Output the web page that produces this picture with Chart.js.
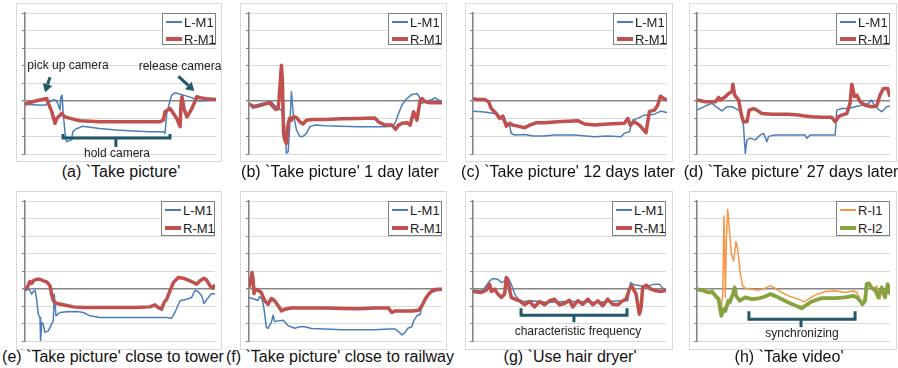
<!DOCTYPE html>
<html><head><meta charset="utf-8">
<script src="https://cdn.jsdelivr.net/npm/chart.js@4.4.1/dist/chart.umd.min.js"></script>
<style>
body{margin:0;width:898px;height:368px;background:#fff;position:relative;overflow:hidden;font-family:"Liberation Sans",Arial,sans-serif;}
.box{position:absolute;border:1px solid #d9d9d9;box-sizing:border-box;}
.leg{position:absolute;background:#fff;border:1px solid #808080;box-sizing:border-box;font-size:13px;color:#222;}
.row{position:absolute;left:3px;height:16px;display:flex;align-items:center;white-space:nowrap;}
.sw{display:inline-block;width:16px;margin-right:2px;}
.cap{position:absolute;font-size:16px;color:#111;white-space:nowrap;transform:translate(-50%,-50%);}
.ann{position:absolute;font-size:12px;color:#222;white-space:nowrap;transform:translate(-50%,-50%);}
</style></head><body>
<script>
// ---------- data (x = % of recording time, y = normalized signal) ----------
const a_L=[[0,-0.19],[10.5,-0.23],[13,-0.04],[15,0.09],[16.6,0],[17.5,-0.23],[18.3,-0.5],[18.8,0.25],[19.4,0.34],[20,-0.7],[21,-1.83],[21.8,-2.3],[24.4,-2.2],[25,-1.74],[27,-1.55],[28.8,-1.5],[30,-1.42],[39,-1.55],[48,-1.64],[56.7,-1.7],[65.4,-1.74],[72.4,-1.74],[73.3,-1.83],[74.2,-0.7],[76,0.06],[76.8,0.34],[78.5,0.47],[82.9,0.34],[87.3,0.2],[89.9,0.06],[91.6,0],[100,0.06]];
const a_R=[[0,-0.17],[2.6,-0.08],[6,0.02],[9.6,0.11],[11.4,0.15],[12.2,-0.13],[14,-0.6],[15.7,-1.26],[16.6,-0.98],[18.3,-0.8],[19.2,-0.7],[20,-0.8],[21,-0.89],[23.6,-0.98],[28.8,-1.11],[39,-1.17],[56.7,-1.17],[70.7,-1.17],[72.4,-1.08],[73.3,-0.6],[76,-0.42],[77.7,-0.7],[79.4,-0.98],[81.2,-1.45],[81.7,-0.13],[82.2,0.25],[83.4,-0.5],[84.8,-0.89],[87,-0.5],[89,0],[89.9,0.25],[91.6,0.19],[95,0.13],[100,0.09]];
const b_L=[[0,-0.13],[1.2,-0.28],[2,-0.42],[2.9,-0.23],[6.4,-0.13],[11.6,-0.04],[13.3,-0.23],[15,-0.42],[16.8,-0.5],[18.5,-1.45],[19.4,-2.96],[20.3,-2.87],[21.1,-1.45],[22,0.53],[22.9,-0.7],[24.6,-1.64],[26.3,-2.0],[28,-2.0],[29.8,-1.83],[31.5,-1.45],[34.1,-1.36],[39.3,-1.4],[56.7,-1.45],[70.5,-1.45],[74,-1.42],[75.7,-1.26],[77.5,-0.7],[79.2,-0.23],[81.8,0.15],[84.4,0.38],[87,0.43],[88.2,0.25],[89.6,-0.13],[91.3,-0.04],[94,0.06],[96.5,0.19],[99,0.02],[100,0]];
const b_R=[[0,-0.17],[2.9,-0.32],[4.7,-0.28],[8.1,-0.17],[10.7,-0.08],[12.5,-0.32],[13.9,-0.47],[15.1,-0.42],[15.6,0.15],[16.8,2.04],[17.3,1.19],[17.9,-1.83],[18.5,-2.2],[19.4,-2.4],[20.3,-1.26],[21.1,-0.98],[22,-1.08],[22.9,-0.89],[24.6,-0.93],[26.3,-1.17],[28,-1.3],[29.8,-1.08],[32.4,-1.04],[39.3,-1.04],[48,-1.0],[56.7,-0.98],[65.3,-0.96],[67,-1.17],[70.5,-1.36],[74,-1.36],[76,-1.6],[77.5,-1.36],[79.2,-1.26],[81.8,-1.23],[83.5,-1.36],[85.3,-0.6],[87,-1.08],[88.7,0.06],[89.6,0.15],[91.3,-0.04],[94,-0.09],[100,-0.09]];
const c_L=[[0,-0.57],[4.3,-0.6],[7.7,-0.64],[11.1,-0.7],[13.7,-0.89],[16.3,-1.17],[18.9,-1.36],[19.7,-1.83],[21.4,-1.92],[26.6,-1.89],[30.9,-1.98],[36.9,-1.98],[42,-1.92],[52.3,-1.92],[62.6,-2.02],[69.5,-1.98],[76.3,-2.02],[78,-1.83],[80.6,-1.74],[82.3,-1.08],[84.9,-0.98],[88.3,-0.79],[90.9,-0.79],[93.5,-0.74],[96.9,-0.57],[100,-0.64]];
const c_R=[[0,0.15],[1.7,0.09],[6,0.09],[8.1,-0.04],[9.4,-0.42],[12,-0.7],[13.7,-0.98],[15.4,-0.85],[17.2,-1.42],[18.9,-1.26],[20.6,-1.36],[23.2,-1.42],[26.6,-1.51],[29.2,-1.36],[32.4,-1.23],[36.9,-1.23],[43.7,-1.17],[54,-1.11],[57.5,-1.3],[62.6,-1.36],[69.5,-1.3],[78,-1.26],[79.8,-0.98],[81.1,-1.36],[83.2,-1.17],[85.8,-1.36],[89.2,-1.79],[90.9,-0.6],[93.5,-0.51],[95.2,-0.23],[96.6,0.28],[98.3,0.15],[100,0.06]];
const d_L=[[0,-0.51],[4.3,-0.28],[7.8,-0.13],[9.5,-0.28],[12.9,-0.55],[15.5,-0.32],[18.1,-0.32],[21.6,-0.51],[23.3,-0.7],[24.1,-1.45],[25,-2.96],[25.9,-2.2],[27.6,-2.1],[30.2,-2.2],[32.8,-1.92],[34.5,-1.83],[36.2,-2.3],[37.1,-2.0],[40.5,-1.92],[47.4,-1.92],[56,-1.92],[56.9,-2.11],[58.6,-1.92],[64.7,-1.92],[71.6,-1.92],[72.4,-0.51],[75,-0.42],[78.4,-0.42],[81.9,-0.32],[85.3,-0.23],[88.8,-0.13],[90.5,0.06],[92.2,-0.32],[95.7,-0.6],[98.3,-0.32],[100,-0.28]];
const d_R=[[0,0.06],[4.3,-0.04],[9.5,-0.04],[11.2,0.21],[12.1,0.06],[14.7,0.25],[16.4,0.43],[18.1,0.53],[18.6,0.96],[19.5,0.34],[21.6,0.06],[23,-0.79],[24.1,-1.17],[25.9,-1.17],[27,-0.51],[29.3,-0.42],[31,-0.51],[33.6,-0.7],[38.8,-0.75],[47.4,-0.75],[52.6,-0.79],[56,-0.85],[59.5,-0.89],[64.7,-0.92],[69.8,-0.92],[71.6,-1.17],[73.3,-0.89],[75,-0.79],[77.6,-0.7],[79.3,-0.13],[80.2,0.96],[81.6,0.25],[82.8,0.34],[84.5,-0.04],[87.1,-0.23],[90.5,-0.32],[93.1,-0.28],[94.8,0.34],[96.6,0.72],[98.8,0.72],[100,0.25]];
const e_L=[[0,-0.13],[1.8,-0.04],[2.6,-0.13],[3.5,-0.32],[4.4,-0.17],[5.3,-0.1],[6.1,-0.61],[7,-1.47],[7.9,-1.66],[8.2,-2.99],[8.8,-1.94],[9.6,-2.04],[10.5,-2.51],[12.3,-2.42],[14,-2.04],[14.9,-1.85],[15.4,-0.32],[16.3,-1.56],[18.4,-1.37],[21.9,-1.33],[27.2,-1.31],[30.7,-1.37],[34.2,-1.56],[39.5,-1.66],[48.2,-1.66],[57,-1.66],[65.8,-1.66],[74.6,-1.66],[77.2,-1.7],[78.9,-1.37],[81.6,-0.7],[85.1,-0.61],[87.7,-0.51],[89.5,-0.1],[91.2,-0.19],[93,-0.42],[94.2,-0.86],[96.5,-0.51],[98.2,-0.29],[100,-0.32]];
const e_R=[[0,-0.04],[1.2,0.06],[2.6,0.4],[3.5,0.29],[4.4,0.44],[6.1,0.53],[7.9,0.53],[9.6,0.44],[11.4,0.38],[13.2,0.15],[14,-0.32],[14.9,-0.7],[16.7,-0.86],[20.2,-0.93],[25.4,-1.05],[30.7,-1.09],[39.5,-1.09],[48.2,-1.09],[57,-1.09],[65.8,-1.05],[68.4,-0.93],[70.2,-1.09],[71.9,-1.18],[73.2,-0.8],[74.6,-0.61],[76.3,-0.13],[78.1,0.34],[80.7,0.63],[83.3,0.59],[86.8,0.44],[90.4,0.25],[92.1,0.44],[94.2,0.59],[95.6,0.48],[97.4,0.15],[98.8,0.02],[100,0.21]];
const f_L=[[0,-0.51],[2.9,-0.61],[4.7,-0.67],[5.5,-0.46],[6.8,-0.61],[7.8,-1.18],[9,-2.23],[9.9,-2.27],[11.6,-1.94],[12.5,-1.52],[13.3,-1.89],[15.1,-1.85],[17.7,-1.81],[20.3,-2.13],[23.7,-2.27],[26.3,-2.19],[28.9,-2.19],[32.4,-2.29],[39.3,-2.32],[48,-2.36],[56.7,-2.36],[65.3,-2.36],[72.3,-2.32],[75.7,-2.32],[77.5,-2.46],[79.2,-2.65],[80.9,-2.51],[82.3,-2.27],[84.4,-2.19],[85.3,-1.85],[87,-1.56],[88.7,-1.47],[89.6,-0.99],[91.3,-0.51],[93.1,-0.32],[96.5,-0.13],[100,-0.1]];
const f_R=[[0,0.06],[0.9,0.44],[1.6,0.91],[2.1,0.53],[2.6,-0.29],[3.3,-0.04],[4.7,-0.1],[6.4,-0.23],[8.1,-0.7],[9.9,-0.9],[11.6,-0.57],[13.3,-0.7],[15.1,-0.99],[16.8,-1.28],[18.5,-1.18],[22,-1.12],[30.7,-1.12],[39.3,-1.12],[48,-1.14],[56.7,-1.16],[65.3,-1.12],[72.3,-1.12],[74,-1.37],[75.7,-1.28],[79.2,-1.28],[84.4,-1.28],[87.9,-1.24],[89.6,-0.99],[91.3,-0.61],[93.1,-0.32],[94.8,-0.13],[97.4,-0.04],[100,-0.04]];
const g_L=[[0,-0.1],[4.3,-0.13],[6,0.02],[8.6,0.44],[10.3,0.57],[12.9,0.53],[14.7,0.34],[16.4,0.44],[18.1,0.63],[19.8,0.25],[21.6,-0.32],[23.3,-0.61],[25.9,-0.74],[30.2,-0.7],[38.8,-0.8],[47.4,-0.74],[56,-0.74],[64.7,-0.8],[69.8,-0.74],[76.7,-0.7],[80.2,-0.7],[81.6,0.34],[83.6,0.21],[87.1,0.15],[90.5,0.15],[94,0.25],[96.6,0.25],[98.3,0.02],[100,-0.1]];
const g_R=[[0,-0.17],[4.3,-0.23],[6.9,-0.1],[8.6,0.25],[9.5,-0.17],[11.2,-0.04],[12.9,-0.32],[14.7,-0.51],[16.4,-0.32],[17.2,0.63],[18.1,0.44],[19.8,-0.51],[21.6,-0.61],[24.1,-0.7],[26.7,-0.93],[29.3,-0.74],[31.9,-1.05],[34.5,-0.74],[37.1,-0.93],[39.7,-0.7],[42.2,-0.61],[44.8,-0.93],[47.4,-0.86],[50,-0.67],[51.7,-1.05],[54.3,-0.7],[56.9,-0.9],[59.5,-0.61],[62.1,-0.93],[64.7,-0.7],[67.2,-0.99],[69.8,-0.61],[72.4,-0.9],[75,-0.93],[77.6,-0.7],[79.3,-0.61],[81,-0.04],[82.2,0.15],[84.5,-0.32],[86.2,-1.47],[87.1,-1.09],[87.9,0.06],[89.7,0.19],[92.2,-0.04],[94.8,-0.13],[97.4,-0.17],[100,-0.1]];
const h_I1=[[0,0.02],[2.6,-0.1],[4.3,-0.04],[6,-0.23],[7.8,-0.32],[9.5,-0.32],[11.2,-0.51],[12.4,-1.37],[13.3,-0.32],[14,4.15],[14.7,-0.51],[15.2,2.72],[15.9,4.53],[16.7,3.49],[17.8,1.96],[19,1.58],[20.2,2.69],[21.2,2.15],[22.4,0.91],[23.6,0.15],[25,0.02],[28.4,-0.04],[31.9,-0.1],[35.3,0.02],[37.9,0.15],[40.5,0.02],[44,-0.23],[47.4,-0.42],[52.6,-0.61],[55.2,-0.76],[57.8,-0.61],[61.2,-0.38],[66.4,-0.17],[71.6,-0.13],[76.7,-0.23],[81,-0.13],[82.8,-0.23],[84.5,-0.61],[86.2,-0.9],[87.9,0.25],[89.7,0.21],[91.4,-0.13],[93.1,0.15],[94.8,-0.61],[96,0.06],[97.4,-0.32],[98.8,0.25],[100,-0.42]];
const h_I2=[[0,-0.04],[3.4,-0.13],[6,-0.23],[7.8,-0.17],[9.5,-0.42],[11.2,-0.61],[12.6,-1.56],[13.8,-1.18],[14.7,-1.28],[16.2,-0.7],[16.9,-0.8],[18.6,-0.32],[19.5,0.06],[20.3,-0.42],[22.1,-0.7],[25,-0.51],[28.4,-0.61],[31.9,-0.57],[35.3,-0.46],[37.9,-0.32],[40.5,-0.42],[44,-0.61],[47.4,-0.8],[52.6,-1.05],[54.3,-1.12],[56,-0.99],[59.5,-0.74],[64.7,-0.55],[71.6,-0.55],[76.7,-0.51],[81,-0.42],[82.8,-0.51],[84.5,-0.7],[85.7,-0.9],[87.1,-0.7],[87.9,0.25],[89.1,0.29],[90.5,0.02],[92.2,-0.04],[94,-0.51],[95.7,0.06],[97.4,-0.51],[98.8,0.25],[100,-0.32]];

const captions=["(a) `Take picture'","(b) `Take picture' 1 day later","(c) `Take picture' 12 days later","(d) `Take picture' 27 days later","(e) `Take picture' close to tower","(f) `Take picture' close to railway","(g) `Use hair dryer'","(h) `Take video'"];
const mNames=['L-M1','R-M1'];
const iNames=['R-I1','R-I2'];
const yTicks=[-3,-2,-1,0,1,2,3,4,5];

// ---------- layout / style ----------
const COL={L:'#4a7ebb',R:'#c0504d',I1:'#f79646',I2:'#86a33f'};
const TEAL='#215968';
const panels=[
 {s:[a_L,a_R],n:mNames,c:[COL.L,COL.R],w:[1.5,3.5],box:[16,3,206,159],plot:[25,13,216,154],cap:[121,172],
  ann:{arrows:[[13.1,1.36,10.5,0.51],[80.3,1.41,88.6,0.58]],brackets:[[19.9,75.9,47.6,-2.09,-1.86,-2.6]]},
  labels:[["pick up camera",68,65],["release camera",180,66],["hold camera",117,153]]},
 {s:[b_L,b_R],n:mNames,c:[COL.L,COL.R],w:[1.5,3.5],box:[240,3,207,159],plot:[249,13,442,154],cap:[340,172]},
 {s:[c_L,c_R],n:mNames,c:[COL.L,COL.R],w:[1.5,3.5],box:[465,3,208,159],plot:[473,13,667,154],cap:[568,172]},
 {s:[d_L,d_R],n:mNames,c:[COL.L,COL.R],w:[1.5,3.5],box:[689,3,208,159],plot:[697,13,890,154],cap:[791,172]},
 {s:[e_L,e_R],n:mNames,c:[COL.L,COL.R],w:[1.5,3.5],box:[16,191,206,159],plot:[25,201,215,341],cap:[113,357]},
 {s:[f_L,f_R],n:mNames,c:[COL.L,COL.R],w:[1.5,3.5],box:[240,191,207,159],plot:[249,201,442,341],cap:[340,357]},
 {s:[g_L,g_R],n:mNames,c:[COL.L,COL.R],w:[1.5,3.5],box:[465,191,208,159],plot:[473,201,666,341],cap:[570,357],
  ann:{brackets:[[24.9,79.8,52.3,-1.53,-1.13,-1.93]]},labels:[["characteristic frequency",578,331]]},
 {s:[h_I1,h_I2],n:iNames,c:[COL.I1,COL.I2],w:[1.5,3.8],box:[689,191,208,159],plot:[697,201,890,341],cap:[789,357],
  ann:{brackets:[[26.9,81.9,53.9,-1.75,-1.3,-2.21]]},labels:[["synchronizing",802,333]]}
];

function annPlugin(an){
  return {id:'ann',afterDatasetsDraw(chart){
    if(!an) return;
    const ctx=chart.ctx,xs=chart.scales.x,ys=chart.scales.y;
    ctx.save();ctx.strokeStyle=TEAL;ctx.fillStyle=TEAL;ctx.lineWidth=3;ctx.lineJoin='miter';
    (an.brackets||[]).forEach(b=>{
      const x1=xs.getPixelForValue(b[0]),x2=xs.getPixelForValue(b[1]),xm=xs.getPixelForValue(b[2]);
      const y=ys.getPixelForValue(b[3]),yu=ys.getPixelForValue(b[4]),yd=ys.getPixelForValue(b[5]);
      ctx.beginPath();ctx.moveTo(x1,yu);ctx.lineTo(x1,y);ctx.lineTo(x2,y);ctx.lineTo(x2,yu);ctx.stroke();
      ctx.beginPath();ctx.moveTo(xm,y);ctx.lineTo(xm,yd);ctx.stroke();
    });
    (an.arrows||[]).forEach(a=>{
      const x0=xs.getPixelForValue(a[0]),y0=ys.getPixelForValue(a[1]),x1=xs.getPixelForValue(a[2]),y1=ys.getPixelForValue(a[3]);
      const ang=Math.atan2(y1-y0,x1-x0),L=8,Wd=5;
      const bx=x1-L*Math.cos(ang),by=y1-L*Math.sin(ang);
      ctx.beginPath();ctx.moveTo(x0,y0);ctx.lineTo(bx,by);ctx.stroke();
      ctx.beginPath();ctx.moveTo(x1,y1);
      ctx.lineTo(bx+Wd*Math.sin(ang),by-Wd*Math.cos(ang));
      ctx.lineTo(bx-Wd*Math.sin(ang),by+Wd*Math.cos(ang));ctx.closePath();ctx.fill();
    });
    ctx.restore();
  }};
}

panels.forEach((p,pi)=>{
  const box=document.createElement('div');box.className='box';
  box.style.cssText=`left:${p.box[0]}px;top:${p.box[1]}px;width:${p.box[2]}px;height:${p.box[3]}px;`;
  document.body.appendChild(box);
  const [l,t,r,b]=p.plot;
  const W=r-l+8,H=b-t+6;
  const cv=document.createElement('canvas');cv.width=W;cv.height=H;
  cv.style.cssText=`position:absolute;left:${l-6}px;top:${t-3}px;width:${W}px;height:${H}px;`;
  document.body.appendChild(cv);
  new Chart(cv,{type:'line',
    data:{datasets:p.s.map((s,i)=>({label:p.n[i],data:s.map(([x,y])=>({x,y})),borderColor:p.c[i],borderWidth:p.w[i],
      pointRadius:0,tension:0,fill:false,order:p.s.length-1-i,borderJoinStyle:'round'}))},
    options:{responsive:false,animation:false,devicePixelRatio:1,
      layout:{padding:{left:0,right:2,top:3,bottom:3}},
      plugins:{legend:{display:false},tooltip:{enabled:false}},
      scales:{x:{type:'linear',min:0,max:100,display:false},
        y:{min:yTicks[0],max:yTicks[yTicks.length-1],afterBuildTicks(s){s.ticks=yTicks.map(v=>({value:v}));},
          ticks:{display:false},afterFit(s){s.width=6;},
          grid:{color:c=>(c.tick&&c.tick.value===0)?'#868686':'#d9d9d9',lineWidth:c=>(c.tick&&c.tick.value===0)?1.6:1,
            drawTicks:true,tickLength:3,tickColor:'#868686'},
          border:{color:'#868686',width:1.6}}}},
    plugins:[annPlugin(p.ann)]});
  // legend
  const lg=document.createElement('div');lg.className='leg';
  const lh=pi<4?32:35;
  lg.style.cssText=`left:${r-54}px;top:${t}px;width:54px;height:${lh}px;`;
  p.n.forEach((nm,i)=>{
    const row=document.createElement('div');row.className='row';
    row.style.top=(i===0?0:(pi<4?17:18))+'px';
    const sw=document.createElement('span');sw.className='sw';
    sw.style.borderTop=`${Math.round(p.w[i])}px solid ${p.c[i]}`;
    row.appendChild(sw);row.appendChild(document.createTextNode(nm));lg.appendChild(row);
  });
  document.body.appendChild(lg);
  const cap=document.createElement('div');cap.className='cap';cap.textContent=captions[pi];
  cap.style.left=p.cap[0]+'px';cap.style.top=p.cap[1]+'px';document.body.appendChild(cap);
  (p.labels||[]).forEach(([txt,x,y])=>{
    const d=document.createElement('div');d.className='ann';d.textContent=txt;d.style.left=x+'px';d.style.top=y+'px';
    document.body.appendChild(d);
  });
});
</script>
</body></html>
